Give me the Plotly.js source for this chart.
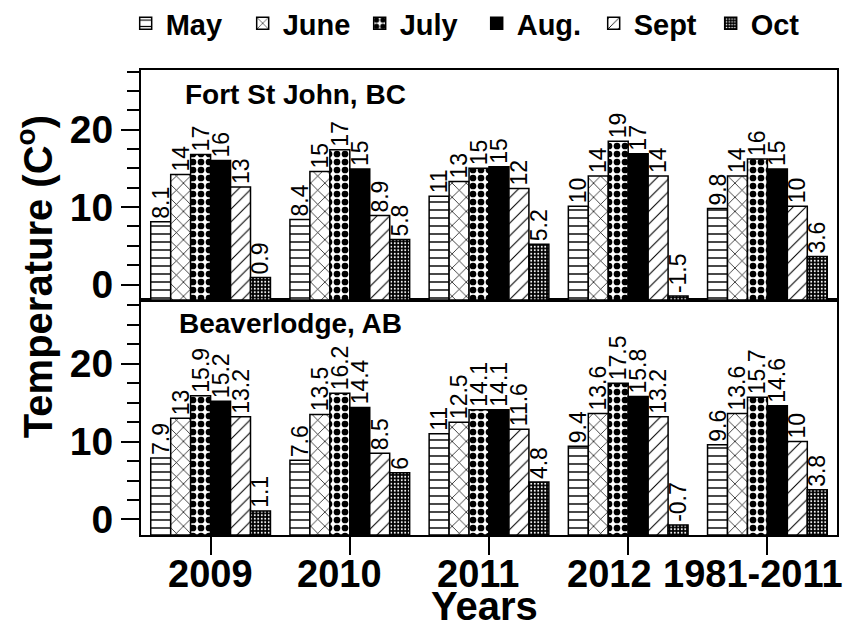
<!DOCTYPE html>
<html>
<head>
<meta charset="utf-8">
<script src="https://cdn.plot.ly/plotly-3.0.1.min.js"></script>
<style>html,body{margin:0;padding:0;background:#fff;}#chart{width:846px;height:625px;}</style>
</head>
<body>
<div id="chart"></div>
<script>
// ---- data ----
const years = ["2009", "2010", "2011", "2012", "1981-2011"];
const months = ["May", "June", "July", "Aug.", "Sept", "Oct"];

// Fort St John, BC (bar heights, labels as printed)
const fsjMay  = [8.1, 8.4, 11.4, 10.1, 9.8];
const fsjJune = [14.2, 14.6, 13.3, 14.0, 14.0];
const fsjJuly = [16.8, 17.4, 15.0, 18.5, 16.2];
const fsjAug  = [16.0, 14.9, 15.2, 16.9, 14.9];
const fsjSept = [12.6, 8.9, 12.4, 14.0, 10.1];
const fsjOct  = [0.9, 5.8, 5.2, -1.5, 3.6];
const fsjMayLbl  = ["8.1", "8.4", "11", "10", "9.8"];
const fsjJuneLbl = ["14", "15", "13", "14", "14"];
const fsjJulyLbl = ["17", "17", "15", "19", "16"];
const fsjAugLbl  = ["16", "15", "15", "17", "15"];
const fsjSeptLbl = ["13", "8.9", "12", "14", "10"];
const fsjOctLbl  = ["0.9", "5.8", "5.2", "-1.5", "3.6"];

// Beaverlodge, AB
const bvMay  = [7.9, 7.6, 11, 9.4, 9.6];
const bvJune = [13, 13.5, 12.5, 13.6, 13.6];
const bvJuly = [15.9, 16.2, 14.1, 17.5, 15.7];
const bvAug  = [15.2, 14.4, 14.1, 15.8, 14.6];
const bvSept = [13.2, 8.5, 11.6, 13.2, 10];
const bvOct  = [1.1, 6, 4.8, -0.7, 3.8];

const axisBottom = -2; // bars are drawn up from the bottom of each panel

// ---- styles ----
const FONT = "Liberation Sans, Arial, sans-serif";
const patterns = [
  {shape: "-", size: 8, solidity: 0.18, fgcolor: "black", bgcolor: "white", fillmode: "replace"},
  {shape: "x", size: 10, solidity: 0.14, fgcolor: "black", bgcolor: "white", fillmode: "replace"},
  {shape: ".", size: 8, solidity: 0.55, fgcolor: "black", bgcolor: "white", fillmode: "replace"},
  {shape: "", fgcolor: "black", bgcolor: "black"},
  {shape: "/", size: 9, solidity: 0.12, fgcolor: "black", bgcolor: "white", fillmode: "replace"},
  {shape: ".", size: 3.5, solidity: 0.25, fgcolor: "white", bgcolor: "black", fillmode: "replace"}
];
const fills = ["white", "white", "white", "black", "white", "black"];
const yearLabelShift = [0, -10, -11, -19, -14];

const fsjSeries = [fsjMay, fsjJune, fsjJuly, fsjAug, fsjSept, fsjOct];
const fsjLabels = [fsjMayLbl, fsjJuneLbl, fsjJulyLbl, fsjAugLbl, fsjSeptLbl, fsjOctLbl];
const bvSeries = [bvMay, bvJune, bvJuly, bvAug, bvSept, bvOct];

const traces = [];
function addTrace(vals, labels, i, xa, ya, showlegend) {
  traces.push({
    type: "bar",
    name: months[i],
    x: years,
    y: vals.map(v => v - axisBottom),
    base: axisBottom,
    text: labels,
    textposition: "outside",
    textangle: -90,
    constraintext: "none",
    cliponaxis: false,
    textfont: {family: FONT, size: 23, color: "black"},
    xaxis: xa, yaxis: ya,
    legendgroup: months[i],
    showlegend: showlegend,
    marker: {color: fills[i], pattern: patterns[i], line: {color: "black", width: 1.5}},
    hoverinfo: "skip"
  });
}
for (let i = 0; i < 6; i++) addTrace(fsjSeries[i], fsjLabels[i], i, "x2", "y2", true);
for (let i = 0; i < 6; i++) addTrace(bvSeries[i], bvSeries[i].map(String), i, "x", "y", false);

const yCommon = {
  showgrid: false, zeroline: false, showline: true, linecolor: "black", linewidth: 2,
  mirror: true, ticks: "outside", ticklen: 18, tickwidth: 2, tickcolor: "black",
  dtick: 10, tick0: 0,
  tickfont: {family: FONT, size: 39, weight: "bold", color: "black"},
  minor: {dtick: 2.5, tick0: 0, ticks: "outside", ticklen: 12, tickwidth: 2, tickcolor: "black", showgrid: false}
};

const annotations = [
  {text: "Fort St John, BC", xref: "paper", yref: "paper", x: 0.06, y: 0.948,
   xanchor: "left", yanchor: "middle", showarrow: false,
   font: {family: FONT, size: 28, weight: "bold", color: "black"}},
  {text: "Beaverlodge, AB", xref: "paper", yref: "paper", x: 0.052, y: 0.454,
   xanchor: "left", yanchor: "middle", showarrow: false,
   font: {family: FONT, size: 28, weight: "bold", color: "black"}},
  {text: "Temperature (C<sup>o</sup>)", xref: "paper", yref: "paper", x: -0.152, y: 0.555,
   xanchor: "center", yanchor: "middle", textangle: -90, showarrow: false,
   font: {family: FONT, size: 40, weight: "bold", color: "black"}},
  {text: "Years", xref: "paper", yref: "paper", x: 0.494, y: -0.152,
   xanchor: "center", yanchor: "middle", showarrow: false,
   font: {family: FONT, size: 40, weight: "bold", color: "black"}}
];
// category labels under the bottom axis (placed as in the original figure)
years.forEach((yr, i) => {
  annotations.push({text: yr, xref: "x", yref: "paper", x: i, y: -0.083,
    xanchor: "center", yanchor: "middle", xshift: yearLabelShift[i], showarrow: false,
    font: {family: FONT, size: 38, weight: "bold", color: "black"}});
});

const layout = {
  width: 846, height: 625,
  margin: {l: 141, r: 9, t: 70, b: 90, autoexpand: false},
  paper_bgcolor: "white", plot_bgcolor: "white",
  barmode: "group", bargap: 0.14, bargroupgap: 0,
  showlegend: true,
  legend: {
    orientation: "h", x: -0.022, xanchor: "left", y: 1.155, yanchor: "top",
    bgcolor: "rgba(0,0,0,0)",
    font: {family: FONT, size: 29, weight: "bold", color: "black"},
    traceorder: "normal", entrywidth: 72, itemwidth: 30
  },
  xaxis: {
    type: "category", domain: [0, 1], anchor: "y", range: [-0.5, 4.5],
    showline: true, linecolor: "black", linewidth: 2, mirror: true,
    ticks: "outside", ticklen: 18, tickwidth: 2, tickcolor: "black",
    showticklabels: false, showgrid: false
  },
  xaxis2: {
    type: "category", domain: [0, 1], anchor: "y2", matches: "x", range: [-0.5, 4.5],
    showline: true, linecolor: "black", linewidth: 2, mirror: true,
    ticks: "", showticklabels: false, showgrid: false
  },
  yaxis: Object.assign({}, yCommon, {domain: [0, 0.5054], range: [-2, 28.2], anchor: "x"}),
  yaxis2: Object.assign({}, yCommon, {domain: [0.5054, 1], range: [-2, 27.7], anchor: "x2"}),
  annotations: annotations
};

Plotly.newPlot("chart", traces, layout, {displayModeBar: false, staticPlot: true});
</script>
</body>
</html>
